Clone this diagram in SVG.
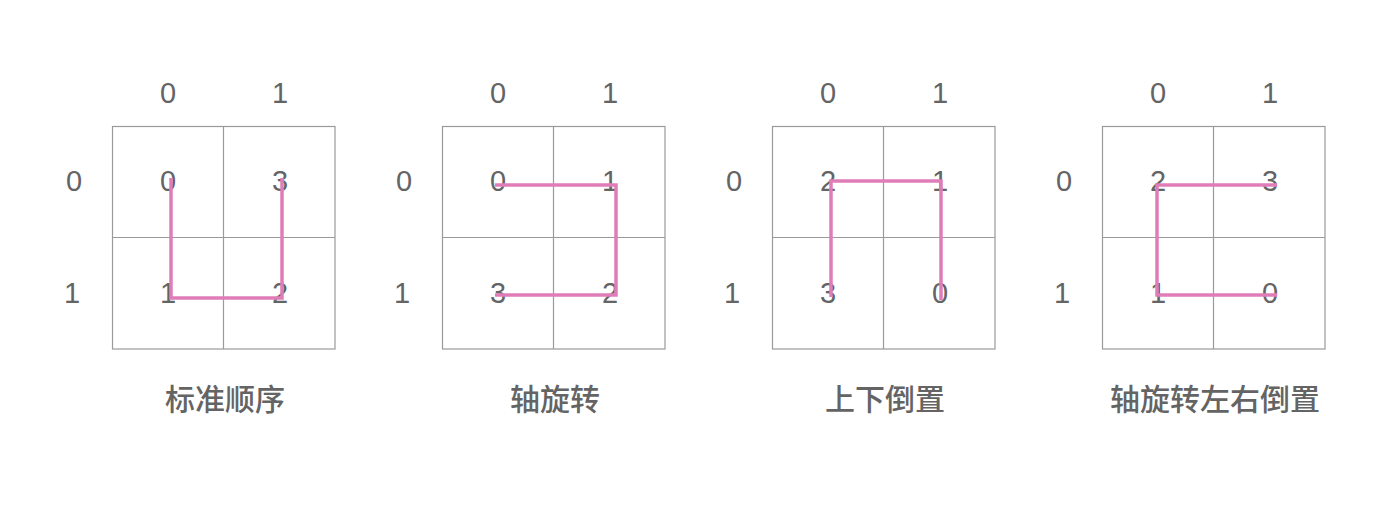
<svg xmlns="http://www.w3.org/2000/svg" width="1398" height="506" viewBox="0 0 1398 506">
<style>
.grid{fill:none;stroke:#9a9a9a;stroke-width:1.2}
.num{font-family:"Liberation Sans","Noto Sans",sans-serif;font-size:29px;fill:#646464;text-anchor:middle}
.cap{font-family:"Noto Sans CJK SC","Noto Sans",sans-serif;font-size:30px;font-weight:500;fill:#646464;text-anchor:middle}
.path{fill:none;stroke:#e07db9;stroke-width:3.5;stroke-linejoin:miter;stroke-linecap:butt}
</style>
<rect width="1398" height="506" fill="#fff"/>
<g id="panel1" transform="translate(0,0)">
<rect class="grid" x="112.5" y="126.5" width="222.5" height="222.5"/>
<line class="grid" x1="223.5" y1="126.5" x2="223.5" y2="349"/>
<line class="grid" x1="112.5" y1="237.5" x2="335" y2="237.5"/>
<text class="num" x="168" y="103">0</text><text class="num" x="280" y="103">1</text>
<text class="num" x="74" y="191">0</text><text class="num" x="72" y="303">1</text>
<text class="num" x="168" y="191">0</text><text class="num" x="280" y="191">3</text>
<text class="num" x="168" y="303">1</text><text class="num" x="280" y="303">2</text>
<text class="cap" x="225" y="410">标准顺序</text>
</g>
<g id="panel2" transform="translate(330,0)">
<rect class="grid" x="112.5" y="126.5" width="222.5" height="222.5"/>
<line class="grid" x1="223.5" y1="126.5" x2="223.5" y2="349"/>
<line class="grid" x1="112.5" y1="237.5" x2="335" y2="237.5"/>
<text class="num" x="168" y="103">0</text><text class="num" x="280" y="103">1</text>
<text class="num" x="74" y="191">0</text><text class="num" x="72" y="303">1</text>
<text class="num" x="168" y="191">0</text><text class="num" x="280" y="191">1</text>
<text class="num" x="168" y="303">3</text><text class="num" x="280" y="303">2</text>
<text class="cap" x="225" y="410">轴旋转</text>
</g>
<g id="panel3" transform="translate(660,0)">
<rect class="grid" x="112.5" y="126.5" width="222.5" height="222.5"/>
<line class="grid" x1="223.5" y1="126.5" x2="223.5" y2="349"/>
<line class="grid" x1="112.5" y1="237.5" x2="335" y2="237.5"/>
<text class="num" x="168" y="103">0</text><text class="num" x="280" y="103">1</text>
<text class="num" x="74" y="191">0</text><text class="num" x="72" y="303">1</text>
<text class="num" x="168" y="191">2</text><text class="num" x="280" y="191">1</text>
<text class="num" x="168" y="303">3</text><text class="num" x="280" y="303">0</text>
<text class="cap" x="225" y="410">上下倒置</text>
</g>
<g id="panel4" transform="translate(990,0)">
<rect class="grid" x="112.5" y="126.5" width="222.5" height="222.5"/>
<line class="grid" x1="223.5" y1="126.5" x2="223.5" y2="349"/>
<line class="grid" x1="112.5" y1="237.5" x2="335" y2="237.5"/>
<text class="num" x="168" y="103">0</text><text class="num" x="280" y="103">1</text>
<text class="num" x="74" y="191">0</text><text class="num" x="72" y="303">1</text>
<text class="num" x="168" y="191">2</text><text class="num" x="280" y="191">3</text>
<text class="num" x="168" y="303">1</text><text class="num" x="280" y="303">0</text>
<text class="cap" x="225" y="410">轴旋转左右倒置</text>
</g>
<g id="connectors">
<polyline class="path" points="171,178 171,298 282,298 282,178"/>
<polyline class="path" points="495,185 616,185 616,295 495,295"/>
<polyline class="path" points="831,297 831,181 941,181 941,300"/>
<polyline class="path" points="1277,185 1157,185 1157,295 1277,295"/>
</g>
</svg>
